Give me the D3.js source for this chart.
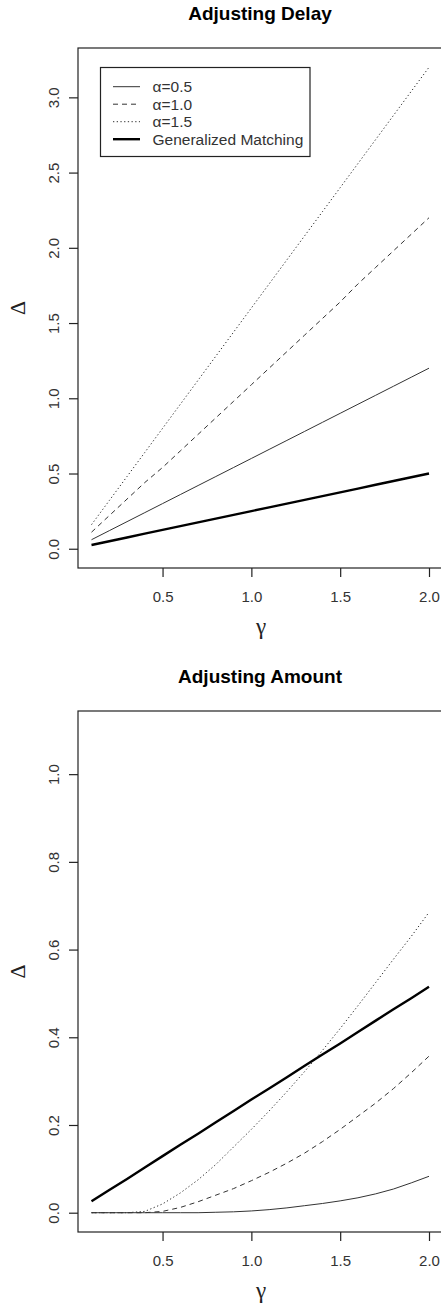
<!DOCTYPE html>
<html><head><meta charset="utf-8">
<script src="https://cdn.jsdelivr.net/npm/d3@7"></script>
<style>
html,body{margin:0;padding:0;background:#fff;}
svg{display:block;}
</style></head>
<body>
<svg id="chart" width="441" height="1308"></svg>
<script>
// ---- data ----
const gamma = [0.1,0.2,0.3,0.4,0.5,0.6,0.7,0.8,0.9,1.0,1.1,1.2,1.3,1.4,1.5,1.6,1.7,1.8,1.9,2.0];

const delayA05 = [0.06,0.12,0.18,0.24,0.30,0.36,0.42,0.48,0.54,0.60,0.66,0.72,0.78,0.84,0.90,0.96,1.02,1.08,1.14,1.20];
const delayA10 = [0.11,0.22,0.33,0.44,0.54,0.65,0.76,0.87,0.98,1.09,1.20,1.31,1.42,1.53,1.64,1.76,1.87,1.98,2.09,2.20];
const delayA15 = [0.16,0.32,0.48,0.64,0.80,0.96,1.12,1.28,1.44,1.60,1.76,1.92,2.08,2.24,2.40,2.56,2.72,2.88,3.04,3.20];
const delayGM  = [0.025,0.05,0.075,0.10,0.125,0.15,0.175,0.20,0.225,0.25,0.275,0.30,0.325,0.35,0.375,0.40,0.425,0.45,0.475,0.50];

const amountA05 = [0,0,0,0,0,0,0,0.001,0.002,0.004,0.007,0.011,0.016,0.021,0.027,0.034,0.043,0.054,0.068,0.083];
const amountA10 = [0,0,0,0,0.003,0.012,0.025,0.040,0.055,0.073,0.092,0.113,0.136,0.162,0.190,0.220,0.250,0.283,0.319,0.357];
const amountA15 = [0,0,0,0.003,0.020,0.045,0.075,0.110,0.150,0.190,0.232,0.276,0.322,0.370,0.420,0.472,0.525,0.578,0.630,0.685];
const amountGM  = [0.026,0.052,0.077,0.103,0.129,0.155,0.180,0.206,0.232,0.258,0.283,0.309,0.335,0.361,0.386,0.412,0.438,0.464,0.489,0.515];

const xTicks = [0.5,1.0,1.5,2.0];
const delayYTicks = [0.0,0.5,1.0,1.5,2.0,2.5,3.0];
const amountYTicks = [0.0,0.2,0.4,0.6,0.8,1.0];

const legendLabels = ["\u03b1=0.5","\u03b1=1.0","\u03b1=1.5","Generalized Matching"];
const titles = ["Adjusting Delay","Adjusting Amount"];

// ---- styles ----
const SANS = "'Liberation Sans', Arial, sans-serif";
const SERIF = "'Liberation Serif', 'Times New Roman', serif";
const styles = [
  {dash:null, width:1, color:"#333"},
  {dash:"5 4", width:1, color:"#333"},
  {dash:"1.3 2.4", width:1, color:"#333"},
  {dash:null, width:2.4, color:"#000"}
];

const svg = d3.select("#chart");

function panel(cfg){
  const g = svg.append("g");
  const x = d3.scaleLinear().domain([0.024,2.076]).range([78,442.5]);
  const y = d3.scaleLinear().domain(cfg.ydom).range([cfg.bottom,cfg.top]);

  // title
  g.append("text").attr("x",260).attr("y",cfg.titleY).attr("text-anchor","middle")
    .style("font-family",SANS).style("font-size","19px").style("font-weight","bold")
    .attr("fill","#000").text(cfg.title);

  // series
  const line = d3.line().x((d,i)=>x(gamma[i])).y(d=>y(d));
  cfg.series.forEach((s,i)=>{
    const st = styles[i];
    g.append("path").datum(s).attr("d",line).attr("fill","none")
      .attr("stroke",st.color).attr("stroke-width",st.width)
      .attr("stroke-dasharray",st.dash).attr("stroke-linejoin","round");
  });

  // box
  g.append("rect").attr("x",78).attr("y",cfg.top).attr("width",442.5-78).attr("height",cfg.bottom-cfg.top)
    .attr("fill","none").attr("stroke","#222").attr("stroke-width",1.2);

  // x axis
  const xa = g.append("g").attr("transform",`translate(0,${cfg.bottom})`)
    .call(d3.axisBottom(x).tickValues(xTicks).tickFormat(d3.format(".1f")).tickSize(9).tickPadding(14));
  xa.select(".domain").remove();
  xa.selectAll("line").attr("stroke","#222").attr("stroke-width",1.2);
  xa.selectAll("text").attr("fill","#333").style("font-family",SANS).style("font-size","15px");

  // y axis
  const ya = g.append("g").attr("transform","translate(78,0)")
    .call(d3.axisLeft(y).tickValues(cfg.yticks).tickFormat(d3.format(".1f")).tickSize(9).tickPadding(0));
  ya.select(".domain").remove();
  ya.selectAll("line").attr("stroke","#222").attr("stroke-width",1.2);
  ya.selectAll("text").attr("fill","#333").style("font-family",SANS).style("font-size","15px")
    .attr("text-anchor","middle").attr("dy",null)
    .attr("x",0).attr("y",0)
    .attr("transform","translate(-19,0) rotate(-90)");

  // axis titles
  g.append("text").attr("x",261).attr("y",cfg.bottom+66).attr("text-anchor","middle")
    .style("font-family",SERIF).style("font-size","23px").attr("fill","#222").text("\u03b3");
  g.append("text").attr("transform",`translate(25,${(cfg.top+cfg.bottom)/2}) rotate(-90)`)
    .attr("text-anchor","middle").style("font-family",SERIF)
    .style("font-size","22px").attr("fill","#222").text("\u0394");

  if(cfg.legend){
    const lg = g.append("g");
    lg.append("rect").attr("x",100.5).attr("y",67.5).attr("width",209.5).attr("height",89)
      .attr("fill","#fff").attr("stroke","#222").attr("stroke-width",1.2);
    legendLabels.forEach((lab,i)=>{
      const yy = 86.7 + i*17.5;
      const st = styles[i];
      lg.append("line").attr("x1",113).attr("x2",140).attr("y1",yy).attr("y2",yy)
        .attr("stroke",st.color).attr("stroke-width",st.width).attr("stroke-dasharray",st.dash);
      lg.append("text").attr("x",152.5).attr("y",yy+5.3).attr("fill","#333")
        .style("font-family",SANS).style("font-size","15.5px").text(lab);
    });
  }
}

panel({title:titles[0], titleY:20, top:48, bottom:568, ydom:[-0.128,3.328], yticks:delayYTicks,
  series:[delayA05,delayA10,delayA15,delayGM], legend:true});
panel({title:titles[1], titleY:683, top:711, bottom:1232, ydom:[-0.044,1.144], yticks:amountYTicks,
  series:[amountA05,amountA10,amountA15,amountGM], legend:false});
</script>
</body></html>
